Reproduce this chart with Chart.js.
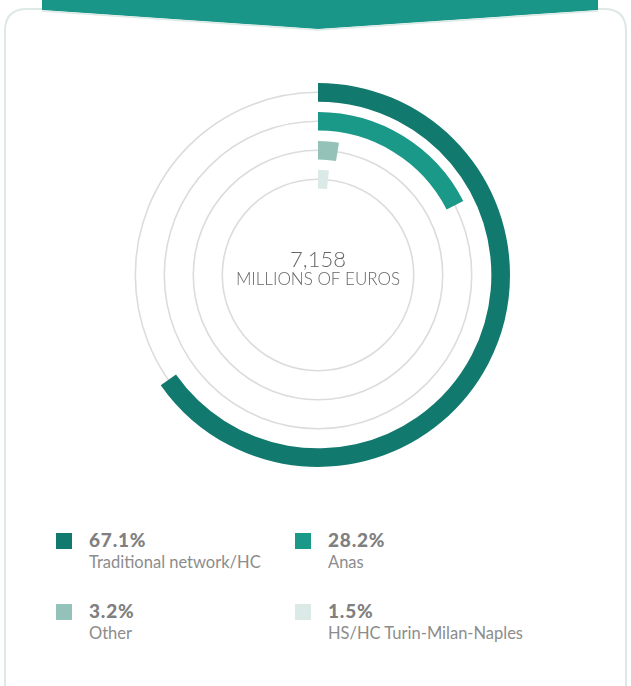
<!DOCTYPE html>
<html>
<head>
<meta charset="utf-8">
<script src="https://cdn.jsdelivr.net/npm/chart.js@4.4.1/dist/chart.umd.min.js"></script>
<style>
  html, body { margin: 0; padding: 0; background: #fff; width: 631px; height: 686px; overflow: hidden; }
  #frame { position: absolute; left: 0; top: 0; }
  #wrap { position: absolute; left: 5px; top: 75px; width: 626px; height: 400px; }
  .item { position: absolute; font-family: Lato, "Open Sans", sans-serif; }
  .item .sw { position: absolute; left: 0; top: 0; width: 16px; height: 16px; }
  .item .pct { position: absolute; left: 33px; top: -5px; font-size: 19px; font-weight: 900; letter-spacing: 0.8px; color: #808080; white-space: nowrap; }
  .item .lbl { position: absolute; left: 33px; top: 19px; font-size: 16.5px; font-weight: 400; color: #8c8c8c; white-space: nowrap; }
</style>
</head>
<body>
<svg id="frame" width="631" height="686">
  <path d="M5 686 L5 31 Q5 9 27 9 L604 9 Q626 9 626 31 L626 686" fill="none" stroke="#dde9e6" stroke-width="2"/>
  <polygon points="42,0 598,0 598,10 318,29 42,10" fill="#1a9688"/>
  <polyline points="42,11 318,30 598,11" fill="none" stroke="#dde9e6" stroke-width="1.5"/>
</svg>
<div id="wrap"><canvas id="myChart"></canvas></div>
<div id="legend"></div>
<script>
// data
var categories = ['Traditional network/HC', 'Anas', 'Other', 'HS/HC Turin-Milan-Naples'];
var shares = [67.1, 28.2, 3.2, 1.5];
// sweep of each ring as drawn in the picture, degrees out of 360
var sweeps = [235, 63, 9, 6];
var colors = ['#11796d', '#1a9888', '#95c2b8', '#dbeae7'];
var totalLabel = '7,158';
var unitLabel = 'MILLIONS OF EUROS';

// one ring per category, thin empty rings in between
var datasets = [];
sweeps.forEach(function (v, i) {
    if (i > 0) {
        datasets.push({ data: [1], backgroundColor: ['rgba(0,0,0,0)'], borderWidth: 0, weight: 10, spacer: true });
    }
    datasets.push({
        label: categories[i],
        data: [v, 360 - v],
        backgroundColor: [colors[i], 'rgba(0,0,0,0)'],
        borderWidth: 0,
        weight: 18
    });
});

// grey track circle through the middle of each ring + centre text
var tracks = {
    id: 'tracks',
    beforeDatasetsDraw: function (chart) {
        var ctx = chart.ctx;
        chart.data.datasets.forEach(function (ds, i) {
            if (ds.spacer) return;
            var arc = chart.getDatasetMeta(i).data[0];
            ctx.save();
            ctx.beginPath();
            ctx.arc(arc.x, arc.y, (arc.innerRadius + arc.outerRadius) / 2, 0, Math.PI * 2);
            ctx.strokeStyle = '#dcdcdc';
            ctx.lineWidth = 1.6;
            ctx.stroke();
            ctx.restore();
        });
    },
    afterDraw: function (chart) {
        var arc = chart.getDatasetMeta(0).data[0];
        var ctx = chart.ctx;
        ctx.save();
        ctx.textAlign = 'center';
        ctx.fillStyle = '#666';
        ctx.font = '300 22px Lato';
        ctx.fillText(totalLabel, arc.x, arc.y - 8);
        ctx.font = '300 17px Lato';
        ctx.fillText(unitLabel, arc.x, arc.y + 10);
        ctx.restore();
    }
};

var ctx = document.getElementById('myChart').getContext('2d');
var myChart = new Chart(ctx, {
    type: 'doughnut',
    data: { labels: ['value', 'rest'], datasets: datasets },
    options: {
        responsive: true,
        maintainAspectRatio: false,
        animation: false,
        events: [],
        radius: 192,
        cutout: 90,
        layout: { padding: 0 },
        plugins: { legend: { display: false }, tooltip: { enabled: false } }
    },
    plugins: [tracks]
});

// legend
var legendPos = [[56, 533], [295, 533], [56, 604], [295, 604]];
var legend = document.getElementById('legend');
categories.forEach(function (c, i) {
    var d = document.createElement('div');
    d.className = 'item';
    d.style.left = legendPos[i][0] + 'px';
    d.style.top = legendPos[i][1] + 'px';
    d.innerHTML = '<div class="sw" style="background:' + colors[i] + '"></div>' +
        '<div class="pct">' + shares[i].toFixed(1) + '%</div>' +
        '<div class="lbl">' + c + '</div>';
    legend.appendChild(d);
});
</script>
</body>
</html>
